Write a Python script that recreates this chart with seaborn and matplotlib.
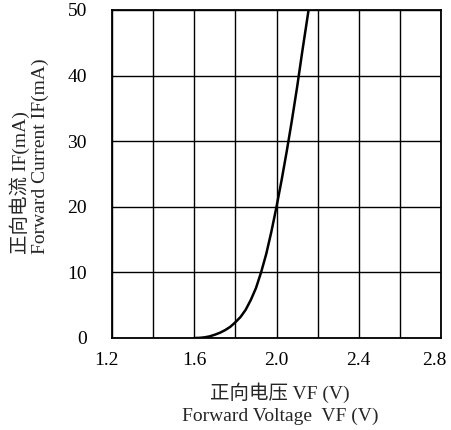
import matplotlib
matplotlib.use("Agg")
import matplotlib.pyplot as plt
import matplotlib.transforms as mtransforms
import seaborn as sns
import pandas as pd

# Data
voltage = [1.600, 1.625, 1.650, 1.675, 1.700, 1.725, 1.750, 1.775, 1.800, 1.825,
           1.850, 1.875, 1.900, 1.925, 1.950, 1.975, 2.000, 2.025, 2.050, 2.075,
           2.100, 2.125, 2.156]
current = [0.0, 0.02, 0.1, 0.25, 0.5, 0.8, 1.2, 1.7, 2.4, 3.2,
           4.3, 5.8, 7.6, 10.0, 12.8, 16.2, 20.0, 24.1, 28.5, 33.2,
           38.2, 43.6, 50.0]
x_ticks = [1.2, 1.6, 2.0, 2.4, 2.8]
x_grid = [1.2, 1.4, 1.6, 1.8, 2.0, 2.2, 2.4, 2.6, 2.8]
y_ticks = [0, 10, 20, 30, 40, 50]

sns.set_style("white")
plt.rcParams['font.family'] = ['Liberation Serif', 'Noto Sans CJK SC', 'DejaVu Sans']

fig = plt.figure(figsize=(4.51, 4.30), dpi=100)
ax = fig.add_axes([112/451, 1-338/430, (441-112)/451, (338-10)/430])

df = pd.DataFrame({"V": voltage, "I": current})
sns.lineplot(data=df, x="V", y="I", ax=ax, color="black", linewidth=1.8, sort=False)

ax.set_xlim(1.2, 2.8)
ax.set_ylim(0, 50)
ax.set_xticks(x_grid)
ax.set_xticklabels([f"{v:.1f}" if round(v, 1) in x_ticks else "" for v in x_grid])
ax.set_yticks(y_ticks)
ax.set_yticklabels([str(v) for v in y_ticks])
ax.grid(True, color="black", linewidth=1.0)
ax.tick_params(axis="both", length=0, labelsize=14, colors="black")
ax.tick_params(axis="x", pad=10)
ax.tick_params(axis="y", pad=18)
for s in ax.spines.values():
    s.set_color("black")
    s.set_linewidth(1.3)
    s.set_visible(True)
ax.set_xlabel("")
ax.set_ylabel("")

labels = ax.get_xticklabels()
shift_first = mtransforms.ScaledTranslation(-6/100, 0, fig.dpi_scale_trans)
shift_last = mtransforms.ScaledTranslation(-7/100, 0, fig.dpi_scale_trans)
labels[0].set_transform(labels[0].get_transform() + shift_first)
labels[-1].set_transform(labels[-1].get_transform() + shift_last)

fig.text(280/451, 1-393/430, "正向电压 VF (V)", ha="center", va="center", fontsize=14)
fig.text(280/451, 1-416/430, "Forward Voltage  VF (V)", ha="center", va="center", fontsize=14)
fig.text(20/451, 1-254/430, "正向电流 IF(mA)", ha="left", va="center", fontsize=14,
         rotation=90, rotation_mode="anchor")
fig.text(40/451, 1-254/430, "Forward Current IF(mA)", ha="left", va="center", fontsize=14,
         rotation=90, rotation_mode="anchor")

fig.savefig("out.png", dpi=100)
